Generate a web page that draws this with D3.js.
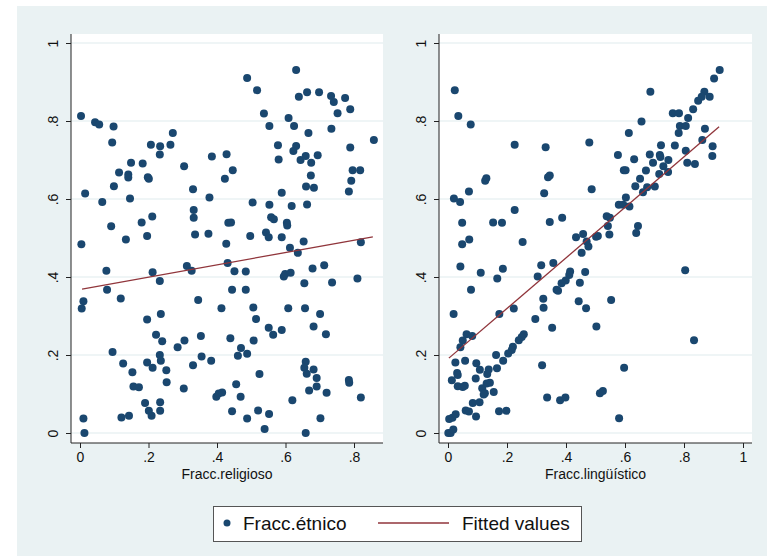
<!DOCTYPE html>
<html>
<head>
<meta charset="utf-8">
<script src="https://cdn.jsdelivr.net/npm/d3@7"></script>
<style>
  body { margin: 0; background: #fff; }
  svg { display: block; font-family: "Liberation Sans", Arial, sans-serif; }
  .axis path, .axis line { stroke: #222; }
  .axis text { font-size: 14px; fill: #111; }
  .grid line { stroke: #eaf2f3; stroke-width: 1.6; }
</style>
</head>
<body>
<div id="chart"></div>
<script>

// Fracc.religioso (x) vs Fracc.étnico (y)
var religioso = [
  [0.003,0.813],[0.044,0.797],[0.056,0.791],[0.098,0.786],[0.094,0.745],[0.207,0.739],[0.234,0.735],[0.264,0.739],
  [0.271,0.769],[0.233,0.714],[0.149,0.693],[0.183,0.691],[0.114,0.668],[0.141,0.663],[0.141,0.655],[0.198,0.656],
  [0.201,0.652],[0.099,0.633],[0.015,0.614],[0.065,0.592],[0.146,0.601],[0.304,0.684],[0.385,0.709],[0.428,0.715],
  [0.446,0.674],[0.423,0.652],[0.330,0.625],[0.378,0.604],[0.332,0.572],[0.332,0.552],[0.211,0.555],[0.180,0.540],
  [0.091,0.530],[0.134,0.496],[0.196,0.505],[0.336,0.509],[0.375,0.511],[0.427,0.485],[0.004,0.484],[0.433,0.539],
  [0.441,0.540],[0.497,0.505],[0.504,0.591],[0.537,0.819],[0.553,0.787],[0.609,0.808],[0.625,0.787],[0.578,0.738],
  [0.631,0.736],[0.623,0.723],[0.580,0.701],[0.644,0.700],[0.659,0.710],[0.675,0.693],[0.694,0.712],[0.667,0.769],
  [0.674,0.660],[0.660,0.632],[0.683,0.629],[0.589,0.616],[0.553,0.585],[0.618,0.582],[0.663,0.586],[0.558,0.553],
  [0.566,0.548],[0.604,0.539],[0.605,0.532],[0.543,0.514],[0.551,0.502],[0.589,0.502],[0.613,0.475],[0.653,0.491],
  [0.734,0.780],[0.752,0.820],[0.741,0.849],[0.774,0.859],[0.789,0.830],[0.789,0.732],[0.796,0.674],[0.818,0.674],
  [0.792,0.647],[0.785,0.619],[0.858,0.751],[0.820,0.489],[0.639,0.862],[0.488,0.910],[0.631,0.931],[0.517,0.879],
  [0.663,0.874],[0.698,0.874],[0.733,0.864],[0.636,0.462],[0.077,0.416],[0.079,0.367],[0.010,0.338],[0.005,0.319],
  [0.119,0.345],[0.212,0.412],[0.233,0.390],[0.312,0.428],[0.326,0.416],[0.431,0.436],[0.451,0.415],[0.484,0.414],
  [0.444,0.367],[0.484,0.367],[0.595,0.401],[0.599,0.408],[0.615,0.411],[0.679,0.422],[0.713,0.430],[0.655,0.384],
  [0.736,0.386],[0.810,0.396],[0.345,0.341],[0.413,0.320],[0.506,0.322],[0.608,0.320],[0.657,0.320],[0.701,0.305],
  [0.196,0.291],[0.236,0.305],[0.514,0.292],[0.682,0.273],[0.551,0.270],[0.564,0.252],[0.589,0.264],[0.718,0.253],
  [0.222,0.252],[0.240,0.235],[0.353,0.249],[0.439,0.243],[0.305,0.237],[0.285,0.220],[0.507,0.237],[0.095,0.208],
  [0.470,0.218],[0.233,0.200],[0.236,0.185],[0.355,0.196],[0.461,0.198],[0.488,0.203],[0.383,0.185],[0.126,0.178],
  [0.196,0.181],[0.330,0.174],[0.659,0.183],[0.655,0.167],[0.212,0.167],[0.252,0.161],[0.153,0.156],[0.682,0.163],
  [0.662,0.152],[0.524,0.151],[0.691,0.141],[0.156,0.119],[0.172,0.117],[0.253,0.130],[0.456,0.125],[0.691,0.119],
  [0.785,0.136],[0.786,0.129],[0.303,0.114],[0.669,0.109],[0.720,0.103],[0.398,0.093],[0.405,0.101],[0.415,0.104],
  [0.469,0.093],[0.820,0.091],[0.620,0.084],[0.190,0.077],[0.234,0.079],[0.201,0.057],[0.209,0.044],[0.234,0.057],
  [0.444,0.056],[0.520,0.058],[0.552,0.049],[0.121,0.040],[0.143,0.044],[0.488,0.037],[0.702,0.038],[0.010,0.037],
  [0.539,0.010],[0.013,0.000],[0.659,0.000]
];

// Fracc.lingüístico (x) vs Fracc.étnico (y)
var linguistico = [
  [0.023,0.879],[0.035,0.813],[0.686,0.875],[0.921,0.931],[0.902,0.909],[0.869,0.875],[0.860,0.862],[0.887,0.862],
  [0.848,0.852],[0.831,0.830],[0.762,0.820],[0.783,0.820],[0.814,0.808],[0.656,0.799],[0.077,0.791],[0.226,0.739],
  [0.331,0.733],[0.479,0.745],[0.613,0.769],[0.786,0.787],[0.806,0.787],[0.782,0.769],[0.871,0.780],[0.862,0.751],
  [0.897,0.735],[0.896,0.710],[0.769,0.737],[0.722,0.738],[0.806,0.724],[0.684,0.714],[0.718,0.713],[0.720,0.708],
  [0.576,0.713],[0.631,0.702],[0.695,0.693],[0.747,0.700],[0.811,0.693],[0.837,0.690],[0.730,0.684],[0.671,0.673],
  [0.596,0.674],[0.602,0.674],[0.716,0.664],[0.746,0.669],[0.651,0.652],[0.675,0.630],[0.701,0.632],[0.635,0.633],
  [0.661,0.617],[0.603,0.604],[0.579,0.585],[0.594,0.585],[0.615,0.581],[0.487,0.625],[0.326,0.615],[0.345,0.660],
  [0.339,0.656],[0.130,0.653],[0.126,0.647],[0.020,0.601],[0.041,0.592],[0.071,0.619],[0.226,0.572],[0.048,0.539],
  [0.153,0.540],[0.183,0.539],[0.345,0.541],[0.387,0.552],[0.538,0.556],[0.549,0.552],[0.542,0.531],[0.644,0.531],
  [0.638,0.513],[0.547,0.509],[0.458,0.510],[0.434,0.502],[0.502,0.503],[0.508,0.505],[0.253,0.490],[0.072,0.496],
  [0.048,0.484],[0.470,0.491],[0.476,0.478],[0.453,0.462],[0.042,0.427],[0.111,0.411],[0.186,0.421],[0.167,0.396],
  [0.078,0.367],[0.316,0.430],[0.357,0.436],[0.304,0.401],[0.414,0.414],[0.411,0.405],[0.465,0.413],[0.399,0.391],
  [0.385,0.384],[0.447,0.385],[0.368,0.367],[0.373,0.365],[0.323,0.344],[0.443,0.338],[0.553,0.341],[0.324,0.321],
  [0.468,0.320],[0.223,0.319],[0.019,0.305],[0.174,0.305],[0.296,0.292],[0.353,0.270],[0.503,0.273],[0.257,0.253],
  [0.250,0.246],[0.240,0.238],[0.220,0.221],[0.216,0.213],[0.204,0.204],[0.063,0.253],[0.082,0.249],[0.050,0.237],
  [0.042,0.220],[0.163,0.200],[0.166,0.166],[0.187,0.185],[0.025,0.181],[0.058,0.185],[0.096,0.179],[0.108,0.162],
  [0.094,0.140],[0.138,0.163],[0.133,0.151],[0.031,0.154],[0.033,0.149],[0.013,0.135],[0.033,0.120],[0.050,0.118],
  [0.057,0.121],[0.116,0.115],[0.125,0.102],[0.121,0.099],[0.142,0.129],[0.131,0.127],[0.155,0.105],[0.084,0.077],
  [0.107,0.079],[0.060,0.058],[0.071,0.055],[0.095,0.042],[0.173,0.056],[0.198,0.057],[0.319,0.174],[0.336,0.091],
  [0.380,0.084],[0.398,0.091],[0.515,0.102],[0.525,0.108],[0.597,0.167],[0.580,0.038],[0.804,0.417],[0.834,0.238],
  [0.004,0.036],[0.015,0.039],[0.026,0.048],[0.001,0.000],[0.009,0.000],[0.018,0.009]
];

// fitted values (linear fit end points)
var fitReligioso = [[0.006, 0.369], [0.855, 0.503]];
var fitLinguistico = [[0.003, 0.192], [0.919, 0.785]];

var xTicksReligioso = [0, 0.2, 0.4, 0.6, 0.8];
var xTicksLinguistico = [0, 0.2, 0.4, 0.6, 0.8, 1];
var yTicks = [0, 0.2, 0.4, 0.6, 0.8, 1];

var navy = "#1a476f", maroon = "#90353b", bg = "#eaf2f3";

var svg = d3.select("#chart").append("svg")
  .attr("width", 775)
  .attr("height", 556);

svg.append("rect")
  .attr("x", 17).attr("y", 6)
  .attr("width", 750).attr("height", 550)
  .attr("fill", bg);

var y = d3.scaleLinear()
  .domain([0, 1])
  .range([433, 43]);

var fmt = function (d) { return d === 0 ? "0" : d === 1 ? "1" : d3.format(".1f")(d).replace(/^0/, ""); };

var line = d3.line()
  .x(function (d) { return d[0]; })
  .y(function (d) { return d[1]; });

function panel(opts) {
  var x = d3.scaleLinear().domain([0, 1]).range([opts.x0, opts.x1]);
  var left = opts.left, right = opts.right, top = 34, bottom = 443;

  var g = svg.append("g");

  g.append("rect")
    .attr("x", left).attr("y", top)
    .attr("width", right - left).attr("height", bottom - top)
    .attr("fill", "#fff");

  g.append("g")
    .attr("class", "grid")
    .selectAll("line")
    .data(yTicks)
    .enter().append("line")
    .attr("x1", left).attr("x2", right)
    .attr("y1", function (d) { return y(d); })
    .attr("y2", function (d) { return y(d); });

  // y axis
  var ya = g.append("g")
    .attr("class", "axis")
    .attr("transform", "translate(" + left + ",0)")
    .call(d3.axisLeft(y).tickValues(yTicks).tickSize(5).tickSizeOuter(0).tickFormat(fmt));
  ya.select(".domain").attr("d", "M0," + top + "V" + bottom);
  ya.selectAll(".tick text")
    .attr("x", null).attr("dy", null)
    .attr("text-anchor", "middle")
    .attr("transform", "translate(-13,0) rotate(-90)")
    .attr("y", 0);

  // x axis
  var xa = g.append("g")
    .attr("class", "axis")
    .attr("transform", "translate(0," + bottom + ")")
    .call(d3.axisBottom(x).tickValues(opts.ticks).tickSize(5).tickSizeOuter(0).tickFormat(fmt));
  xa.select(".domain").attr("d", "M" + left + ",0H" + right);
  xa.selectAll(".tick text").attr("y", 9);

  g.append("text")
    .attr("x", (left + right) / 2)
    .attr("y", 479)
    .attr("text-anchor", "middle")
    .style("font-size", "14px")
    .attr("fill", "#111")
    .text(opts.title);

  g.append("g")
    .selectAll("circle")
    .data(opts.points)
    .enter().append("circle")
    .attr("cx", function (d) { return x(d[0]); })
    .attr("cy", function (d) { return y(d[1]); })
    .attr("r", 4)
    .attr("fill", navy);

  g.append("path")
    .attr("d", line(opts.fit.map(function (d) { return [x(d[0]), y(d[1])]; })))
    .attr("fill", "none")
    .attr("stroke", maroon)
    .attr("stroke-width", 1.3);
}

panel({ left: 71, right: 383, x0: 80, x1: 422.5, ticks: xTicksReligioso,
  points: religioso, fit: fitReligioso, title: "Fracc.religioso" });
panel({ left: 439, right: 752, x0: 448, x1: 743, ticks: xTicksLinguistico,
  points: linguistico, fit: fitLinguistico, title: "Fracc.lingüístico" });

// legend
var lg = svg.append("g");
lg.append("rect")
  .attr("x", 213.5).attr("y", 506.5)
  .attr("width", 368).attr("height", 35)
  .attr("fill", "#fff")
  .attr("stroke", "#555");
lg.append("circle")
  .attr("cx", 227).attr("cy", 523)
  .attr("r", 3.5)
  .attr("fill", navy);
lg.append("text")
  .attr("x", 243).attr("y", 530)
  .style("font-size", "19px")
  .attr("fill", "#111")
  .text("Fracc.étnico");
lg.append("line")
  .attr("x1", 378).attr("x2", 449)
  .attr("y1", 523).attr("y2", 523)
  .attr("stroke", maroon)
  .attr("stroke-width", 1.3);
lg.append("text")
  .attr("x", 462).attr("y", 530)
  .style("font-size", "19px")
  .attr("fill", "#111")
  .text("Fitted values");
</script>
</body>
</html>
